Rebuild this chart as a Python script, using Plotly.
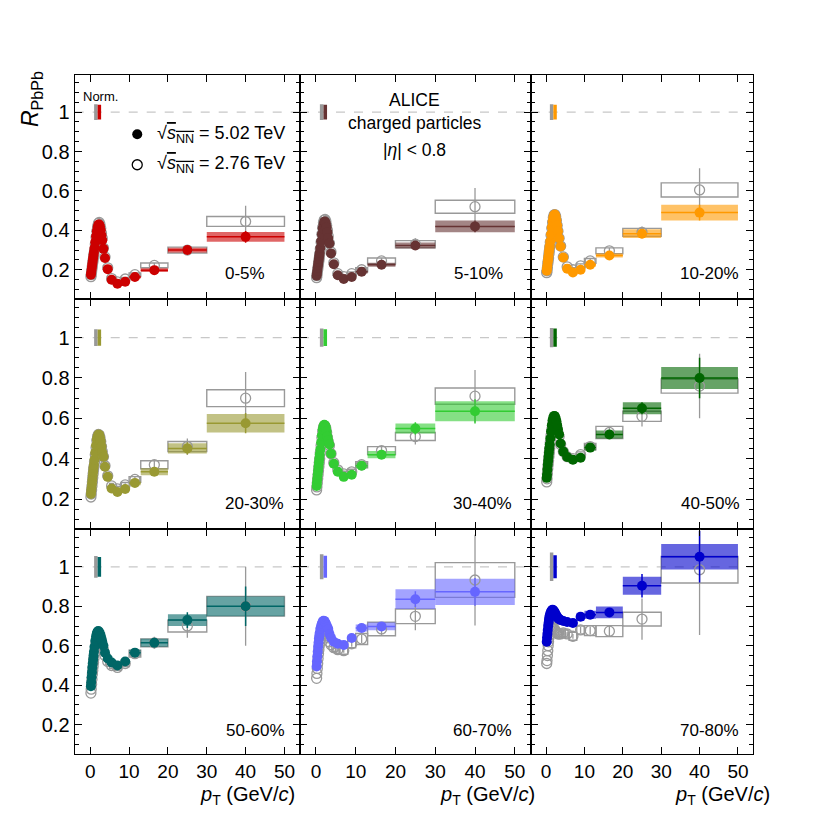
import plotly.graph_objects as go

# ---------------- data ----------------
PT = [0.175, 0.25, 0.35, 0.45, 0.55, 0.65, 0.75, 0.85, 0.95, 1.1, 1.3, 1.5, 1.7, 1.9, 2.1, 2.3, 2.5, 2.7, 2.9, 3.1,
      3.4, 3.8, 4.5, 5.5, 7.0, 9.0, 11.5, 16.5, 25.0, 40.0]
BIN_LO = [4, 5, 6, 8, 10, 13, 20, 30]      # bins of the last 8 points
BIN_HI = [5, 6, 8, 10, 13, 20, 30, 50]

CENT = ["0-5%", "5-10%", "10-20%", "20-30%", "30-40%", "40-50%", "50-60%", "60-70%", "70-80%"]
COLORS = ["#cc0000", "#663333", "#ff9900", "#999933", "#33cc33", "#006600", "#006666", "#6666ff", "#0000cc"]

r502_00_05 = [0.175, 0.185, 0.20, 0.215, 0.23, 0.245, 0.26, 0.275, 0.29, 0.31, 0.34, 0.37, 0.395, 0.415, 0.428, 0.43, 0.42, 0.40, 0.375, 0.35,
              0.306, 0.26, 0.203, 0.149, 0.129, 0.139, 0.163, 0.198, 0.300, 0.367]
r276_00_05 = [0.165, 0.175, 0.19, 0.205, 0.22, 0.235, 0.25, 0.265, 0.28, 0.30, 0.33, 0.365, 0.395, 0.42, 0.435, 0.44, 0.43, 0.41, 0.385, 0.36,
              0.31, 0.265, 0.21, 0.155, 0.138, 0.153, 0.175, 0.222, 0.300, 0.445]
sys502_00_05 = [0.010, 0.008, 0.007, 0.007, 0.008, 0.010, 0.012, 0.025]
stat502_00_05 = [0.002, 0.002, 0.002, 0.003, 0.004, 0.006, 0.010, 0.030]
sys276_00_05 = [0.010, 0.008, 0.008, 0.008, 0.009, 0.012, 0.015, 0.025]
stat276_00_05 = [0.003, 0.003, 0.004, 0.005, 0.008, 0.012, 0.025, 0.080]

r502_05_10 = [0.17, 0.18, 0.195, 0.21, 0.225, 0.24, 0.255, 0.27, 0.285, 0.31, 0.345, 0.38, 0.41, 0.43, 0.443, 0.445, 0.435, 0.415, 0.39, 0.36,
              0.333, 0.283, 0.228, 0.172, 0.153, 0.163, 0.19, 0.225, 0.323, 0.42]
r276_05_10 = [0.16, 0.17, 0.185, 0.20, 0.215, 0.23, 0.245, 0.26, 0.28, 0.305, 0.34, 0.38, 0.415, 0.44, 0.452, 0.455, 0.445, 0.425, 0.40, 0.37,
              0.335, 0.29, 0.235, 0.18, 0.165, 0.18, 0.20, 0.245, 0.33, 0.52]
sys502_05_10 = [0.010, 0.008, 0.008, 0.008, 0.009, 0.010, 0.015, 0.030]
stat502_05_10 = [0.002, 0.002, 0.003, 0.003, 0.004, 0.007, 0.012, 0.030]
sys276_05_10 = [0.010, 0.009, 0.009, 0.009, 0.010, 0.015, 0.018, 0.033]
stat276_05_10 = [0.003, 0.003, 0.004, 0.006, 0.008, 0.015, 0.030, 0.095]

r502_10_20 = [0.195, 0.205, 0.22, 0.24, 0.255, 0.27, 0.29, 0.305, 0.32, 0.345, 0.38, 0.415, 0.445, 0.465, 0.478, 0.48, 0.47, 0.45, 0.425, 0.395,
              0.36, 0.318, 0.262, 0.205, 0.186, 0.20, 0.225, 0.272, 0.383, 0.49]
r276_10_20 = [0.185, 0.195, 0.21, 0.23, 0.245, 0.26, 0.28, 0.295, 0.315, 0.34, 0.375, 0.41, 0.44, 0.465, 0.478, 0.48, 0.47, 0.45, 0.425, 0.395,
              0.36, 0.32, 0.265, 0.215, 0.20, 0.22, 0.245, 0.296, 0.39, 0.605]
sys502_10_20 = [0.010, 0.009, 0.009, 0.009, 0.010, 0.010, 0.022, 0.040]
stat502_10_20 = [0.002, 0.002, 0.003, 0.004, 0.005, 0.008, 0.015, 0.040]
sys276_10_20 = [0.010, 0.010, 0.010, 0.010, 0.012, 0.015, 0.020, 0.036]
stat276_10_20 = [0.004, 0.004, 0.005, 0.007, 0.010, 0.015, 0.030, 0.110]

r502_20_30 = [0.225, 0.24, 0.255, 0.275, 0.295, 0.315, 0.335, 0.355, 0.37, 0.395, 0.43, 0.465, 0.495, 0.51, 0.52, 0.518, 0.505, 0.485, 0.46, 0.43,
              0.41, 0.36, 0.31, 0.252, 0.235, 0.25, 0.28, 0.335, 0.451, 0.576]
r276_20_30 = [0.21, 0.225, 0.245, 0.265, 0.285, 0.305, 0.325, 0.345, 0.36, 0.385, 0.42, 0.455, 0.49, 0.51, 0.52, 0.518, 0.505, 0.485, 0.46, 0.435,
              0.41, 0.365, 0.315, 0.265, 0.25, 0.27, 0.297, 0.37, 0.46, 0.70]
sys502_20_30 = [0.012, 0.011, 0.011, 0.011, 0.012, 0.017, 0.025, 0.046]
stat502_20_30 = [0.003, 0.003, 0.004, 0.005, 0.007, 0.010, 0.030, 0.050]
sys276_20_30 = [0.012, 0.012, 0.012, 0.012, 0.014, 0.020, 0.025, 0.042]
stat276_20_30 = [0.004, 0.005, 0.006, 0.008, 0.012, 0.020, 0.040, 0.130]

r502_30_40 = [0.265, 0.28, 0.30, 0.32, 0.34, 0.36, 0.38, 0.40, 0.42, 0.445, 0.48, 0.515, 0.545, 0.56, 0.568, 0.565, 0.555, 0.535, 0.51, 0.49,
              0.47, 0.425, 0.375, 0.335, 0.31, 0.32, 0.365, 0.42, 0.55, 0.635]
r276_30_40 = [0.245, 0.26, 0.28, 0.30, 0.32, 0.34, 0.36, 0.38, 0.40, 0.43, 0.465, 0.505, 0.535, 0.555, 0.563, 0.56, 0.55, 0.53, 0.505, 0.485,
              0.465, 0.425, 0.38, 0.345, 0.325, 0.335, 0.37, 0.44, 0.51, 0.71]
sys502_30_40 = [0.013, 0.012, 0.012, 0.012, 0.013, 0.018, 0.025, 0.050]
stat502_30_40 = [0.003, 0.003, 0.004, 0.005, 0.008, 0.012, 0.030, 0.060]
sys276_30_40 = [0.013, 0.013, 0.013, 0.013, 0.015, 0.020, 0.020, 0.040]
stat276_30_40 = [0.005, 0.005, 0.006, 0.008, 0.012, 0.020, 0.040, 0.130]

r502_40_50 = [0.305, 0.32, 0.345, 0.37, 0.39, 0.41, 0.43, 0.45, 0.47, 0.50, 0.535, 0.565, 0.59, 0.605, 0.612, 0.61, 0.60, 0.585, 0.565, 0.545,
              0.52, 0.475, 0.435, 0.408, 0.395, 0.405, 0.455, 0.52, 0.65, 0.80]
r276_40_50 = [0.285, 0.30, 0.325, 0.35, 0.37, 0.39, 0.41, 0.43, 0.45, 0.48, 0.515, 0.545, 0.57, 0.585, 0.592, 0.59, 0.58, 0.565, 0.55, 0.53,
              0.51, 0.47, 0.435, 0.41, 0.40, 0.42, 0.46, 0.53, 0.61, 0.76]
sys502_40_50 = [0.014, 0.013, 0.013, 0.013, 0.015, 0.020, 0.030, 0.055]
stat502_40_50 = [0.004, 0.004, 0.005, 0.006, 0.010, 0.015, 0.030, 0.100]
sys276_40_50 = [0.014, 0.014, 0.014, 0.014, 0.016, 0.030, 0.025, 0.035]
stat276_40_50 = [0.006, 0.006, 0.007, 0.010, 0.015, 0.025, 0.050, 0.160]

r502_50_60 = [0.395, 0.415, 0.44, 0.465, 0.49, 0.51, 0.53, 0.55, 0.57, 0.595, 0.625, 0.648, 0.663, 0.672, 0.675, 0.67, 0.66, 0.65, 0.635, 0.62,
              0.60, 0.565, 0.535, 0.515, 0.50, 0.52, 0.565, 0.615, 0.73, 0.80]
r276_50_60 = [0.36, 0.38, 0.405, 0.43, 0.455, 0.475, 0.495, 0.515, 0.535, 0.56, 0.59, 0.615, 0.632, 0.642, 0.645, 0.642, 0.635, 0.625, 0.612, 0.60,
              0.58, 0.55, 0.52, 0.50, 0.49, 0.51, 0.56, 0.615, 0.70, 0.80]
sys502_50_60 = [0.015, 0.014, 0.014, 0.014, 0.015, 0.020, 0.030, 0.050]
stat502_50_60 = [0.005, 0.005, 0.006, 0.008, 0.012, 0.020, 0.040, 0.100]
sys276_50_60 = [0.015, 0.015, 0.015, 0.015, 0.017, 0.020, 0.030, 0.050]
stat276_50_60 = [0.007, 0.007, 0.008, 0.012, 0.020, 0.030, 0.060, 0.200]

r502_60_70 = [0.495, 0.52, 0.545, 0.57, 0.595, 0.615, 0.635, 0.65, 0.665, 0.685, 0.70, 0.713, 0.722, 0.727, 0.726, 0.72, 0.712, 0.703, 0.694, 0.685,
              0.66, 0.64, 0.62, 0.61, 0.604, 0.639, 0.69, 0.698, 0.836, 0.873]
r276_60_70 = [0.435, 0.46, 0.485, 0.51, 0.535, 0.56, 0.58, 0.60, 0.615, 0.635, 0.655, 0.67, 0.68, 0.685, 0.683, 0.678, 0.67, 0.66, 0.65, 0.64,
              0.62, 0.605, 0.59, 0.58, 0.575, 0.61, 0.634, 0.685, 0.749, 0.933]
sys502_60_70 = [0.018, 0.017, 0.017, 0.017, 0.018, 0.020, 0.050, 0.066]
stat502_60_70 = [0.006, 0.006, 0.007, 0.010, 0.015, 0.020, 0.040, 0.070]
sys276_60_70 = [0.018, 0.018, 0.018, 0.020, 0.028, 0.034, 0.037, 0.088]
stat276_60_70 = [0.008, 0.008, 0.010, 0.015, 0.020, 0.030, 0.070, 0.230]

r502_70_80 = [0.62, 0.64, 0.66, 0.68, 0.70, 0.715, 0.73, 0.742, 0.752, 0.763, 0.773, 0.78, 0.782, 0.78, 0.775, 0.768, 0.76, 0.753, 0.746, 0.74,
              0.735, 0.73, 0.725, 0.72, 0.715, 0.747, 0.757, 0.769, 0.904, 1.051]
r276_70_80 = [0.51, 0.525, 0.55, 0.575, 0.60, 0.62, 0.64, 0.655, 0.667, 0.68, 0.69, 0.695, 0.695, 0.69, 0.685, 0.68, 0.675, 0.67, 0.665, 0.66,
              0.66, 0.66, 0.665, 0.66, 0.648, 0.68, 0.677, 0.674, 0.735, 0.985]
sys502_70_80 = [0.020, 0.020, 0.020, 0.020, 0.020, 0.030, 0.046, 0.065]
stat502_70_80 = [0.008, 0.008, 0.010, 0.012, 0.015, 0.020, 0.060, 0.130]
sys276_70_80 = [0.020, 0.020, 0.020, 0.020, 0.025, 0.028, 0.035, 0.067]
stat276_70_80 = [0.010, 0.010, 0.012, 0.015, 0.020, 0.030, 0.105, 0.330]

NORM502 = [0.038, 0.038, 0.038, 0.040, 0.042, 0.045, 0.050, 0.056, 0.058]
NORM276 = [0.040, 0.040, 0.040, 0.042, 0.045, 0.048, 0.055, 0.063, 0.072]

X_TICKS = [0, 10, 20, 30, 40, 50]
Y_TICKS = [0.2, 0.4, 0.6, 0.8, 1.0]
Y_TICKTEXT = ["0.2", "0.4", "0.6", "0.8", "1"]

R502 = [r502_00_05, r502_05_10, r502_10_20, r502_20_30, r502_30_40, r502_40_50, r502_50_60, r502_60_70, r502_70_80]
R276 = [r276_00_05, r276_05_10, r276_10_20, r276_20_30, r276_30_40, r276_40_50, r276_50_60, r276_60_70, r276_70_80]
SYS502 = [sys502_00_05, sys502_05_10, sys502_10_20, sys502_20_30, sys502_30_40, sys502_40_50, sys502_50_60, sys502_60_70, sys502_70_80]
STAT502 = [stat502_00_05, stat502_05_10, stat502_10_20, stat502_20_30, stat502_30_40, stat502_40_50, stat502_50_60, stat502_60_70, stat502_70_80]
SYS276 = [sys276_00_05, sys276_05_10, sys276_10_20, sys276_20_30, sys276_30_40, sys276_40_50, sys276_50_60, sys276_60_70, sys276_70_80]
STAT276 = [stat276_00_05, stat276_05_10, stat276_10_20, stat276_20_30, stat276_30_40, stat276_40_50, stat276_50_60, stat276_60_70, stat276_70_80]

# ---------------- layout helpers ----------------
W = 830
OFF = 8      # page body margin of the html page
FONT = "Liberation Sans, Arial, Helvetica, sans-serif"
GRAY = "#999999"
COL_PX = [(74.7, 300.0), (300.0, 530.7), (530.7, 753.3)]
ROW_PX = [(74.7, 299.3), (299.3, 529.3), (529.3, 754.3)]
XR = [-4, 54]
YR = [0.05, 1.19]
CENT_XR = [267, 505, 741, 286, 514, 742, 287, 514, 741]
CENT_YC = [273, 273, 273, 503, 503, 503, 730, 730, 730]
XTITLE_R = [297, 537, 772]


def fx(p):
    return (p - OFF) / W


def fy(p):
    return 1 - (p - OFF) / W


def rgba(hexc, a):
    h = hexc.lstrip("#")
    return "rgba(%d,%d,%d,%.2f)" % (int(h[0:2], 16), int(h[2:4], 16), int(h[4:6], 16), a)


fig = go.Figure()
shapes = []
annotations = []
layout = dict(width=W, height=W, margin=dict(l=0, r=0, t=0, b=0, autoexpand=False),
              paper_bgcolor="white", plot_bgcolor="white", showlegend=False)

nlow = len(PT) - len(BIN_LO)

for i in range(9):
    r, c = divmod(i, 3)
    k = i + 1
    xn = "x" if k == 1 else "x%d" % k
    yn = "y" if k == 1 else "y%d" % k
    xa_name = "xaxis" if k == 1 else "xaxis%d" % k
    ya_name = "yaxis" if k == 1 else "yaxis%d" % k
    layout[xa_name] = dict(
        domain=[fx(COL_PX[c][0]), fx(COL_PX[c][1])], range=XR, anchor=yn, automargin=False,
        tickvals=X_TICKS, ticktext=[str(v) for v in X_TICKS],
        ticks="inside", ticklen=7, tickwidth=1.2, tickcolor="black",
        showline=True, linecolor="black", linewidth=1.3, mirror="allticks",
        showgrid=False, zeroline=False, showticklabels=(r == 2),
        tickfont=dict(family=FONT, size=19, color="black"))
    layout[ya_name] = dict(
        domain=[fy(ROW_PX[r][1]), fy(ROW_PX[r][0])], range=YR, anchor=xn, automargin=False,
        tickvals=Y_TICKS, ticktext=Y_TICKTEXT,
        ticks="inside", ticklen=7, tickwidth=1.2, tickcolor="black",
        minor=dict(dtick=0.05, tick0=0, ticks="inside", ticklen=4, tickwidth=1.2, tickcolor="black"),
        showline=True, linecolor="black", linewidth=1.3, mirror="allticks",
        showgrid=False, zeroline=False, showticklabels=(c == 0),
        tickfont=dict(family=FONT, size=20, color="black"))

    col = COLORS[i]
    # dashed unity line
    shapes.append(dict(type="line", xref=xn, yref=yn, x0=XR[0], x1=XR[1], y0=1, y1=1,
                       line=dict(color="#c8c8c8", width=1.2, dash="dash"), layer="below"))
    # systematic boxes 2.76 (open gray)
    for j in range(len(BIN_LO)):
        v = R276[i][nlow + j]
        s = SYS276[i][j]
        shapes.append(dict(type="rect", xref=xn, yref=yn, x0=BIN_LO[j], x1=BIN_HI[j],
                           y0=v - s, y1=v + s, fillcolor="rgba(0,0,0,0)",
                           line=dict(color=GRAY, width=1.4), layer="below"))
    # systematic boxes 5.02 (filled)
    for j in range(len(BIN_LO)):
        v = R502[i][nlow + j]
        s = SYS502[i][j]
        shapes.append(dict(type="rect", xref=xn, yref=yn, x0=BIN_LO[j], x1=BIN_HI[j],
                           y0=v - s, y1=v + s, fillcolor=rgba(col, 0.6),
                           line=dict(width=0), layer="below"))
    # normalisation boxes
    shapes.append(dict(type="rect", xref=xn, yref=yn, x0=1.0, x1=1.9,
                       y0=1 - NORM276[i], y1=1 + NORM276[i], fillcolor=GRAY,
                       line=dict(width=0), layer="above"))
    shapes.append(dict(type="rect", xref=xn, yref=yn, x0=1.9, x1=2.8,
                       y0=1 - NORM502[i], y1=1 + NORM502[i], fillcolor=col,
                       line=dict(width=0), layer="above"))

    zeros = [0.0] * nlow
    fig.add_trace(go.Scatter(
        x=PT, y=R276[i], xaxis=xn, yaxis=yn, mode="markers", hoverinfo="skip",
        marker=dict(symbol="circle-open", size=10, color=GRAY, line=dict(width=1.3, color=GRAY)),
        error_y=dict(type="data", array=zeros + STAT276[i], color=GRAY, thickness=1.3, width=0)))
    fig.add_trace(go.Scatter(
        x=PT, y=R502[i], xaxis=xn, yaxis=yn, mode="markers", hoverinfo="skip",
        marker=dict(symbol="circle", size=10, color=col, line=dict(width=0)),
        error_y=dict(type="data", array=zeros + STAT502[i], color=col, thickness=1.5, width=0),
        error_x=dict(type="data", array=zeros + [(h - l) / 2 for l, h in zip(BIN_LO, BIN_HI)],
                     color=col, thickness=1.5, width=0)))

    annotations.append(dict(xref="paper", yref="paper", x=fx(CENT_XR[i]), y=fy(CENT_YC[i]),
                            xanchor="right", yanchor="middle", showarrow=False, text=CENT[i],
                            font=dict(family=FONT, size=17, color="black")))

# legend keys (panel 1)
fig.add_trace(go.Scatter(x=[12.1], y=[0.888], xaxis="x", yaxis="y", mode="markers", hoverinfo="skip",
                         marker=dict(symbol="circle", size=10, color="black")))
fig.add_trace(go.Scatter(x=[12.1], y=[0.733], xaxis="x", yaxis="y", mode="markers", hoverinfo="skip",
                         marker=dict(symbol="circle-open", size=10, color="black", line=dict(width=1.3, color="black"))))

sq = "√<span style='text-decoration:overline'><i>s</i><sub>NN</sub></span>"
annotations += [
    dict(xref="paper", yref="paper", x=fx(155), y=fy(134), xanchor="left", yanchor="middle",
         showarrow=False, text=sq + " = 5.02 TeV", font=dict(family=FONT, size=18, color="black")),
    dict(xref="paper", yref="paper", x=fx(155), y=fy(165), xanchor="left", yanchor="middle",
         showarrow=False, text=sq + " = 2.76 TeV", font=dict(family=FONT, size=18, color="black")),
    dict(xref="paper", yref="paper", x=fx(100), y=fy(97), xanchor="center", yanchor="middle",
         showarrow=False, text="Norm.", font=dict(family=FONT, size=13, color="black")),
    dict(xref="paper", yref="paper", x=fx(414), y=fy(100), xanchor="center", yanchor="middle",
         showarrow=False, text="ALICE", font=dict(family=FONT, size=17.5, color="black")),
    dict(xref="paper", yref="paper", x=fx(415), y=fy(123), xanchor="center", yanchor="middle",
         showarrow=False, text="charged particles", font=dict(family=FONT, size=17.5, color="black")),
    dict(xref="paper", yref="paper", x=fx(414), y=fy(150), xanchor="center", yanchor="middle",
         showarrow=False, text="|<i>η</i>| < 0.8", font=dict(family=FONT, size=17.5, color="black")),
    dict(xref="paper", yref="paper", x=fx(32), y=fy(99), xanchor="center", yanchor="middle",
         textangle=-90, showarrow=False, text="<i>R</i><sub>PbPb</sub>",
         font=dict(family=FONT, size=23, color="black")),
]
for c in range(3):
    annotations.append(dict(xref="paper", yref="paper", x=fx(XTITLE_R[c]), y=fy(795),
                            xanchor="right", yanchor="middle", showarrow=False,
                            text="<i>p</i><sub>T</sub> (GeV/<i>c</i>)",
                            font=dict(family=FONT, size=20, color="black")))

layout["shapes"] = shapes
layout["annotations"] = annotations
fig.update_layout(**layout)
fig.write_html("out.html")
